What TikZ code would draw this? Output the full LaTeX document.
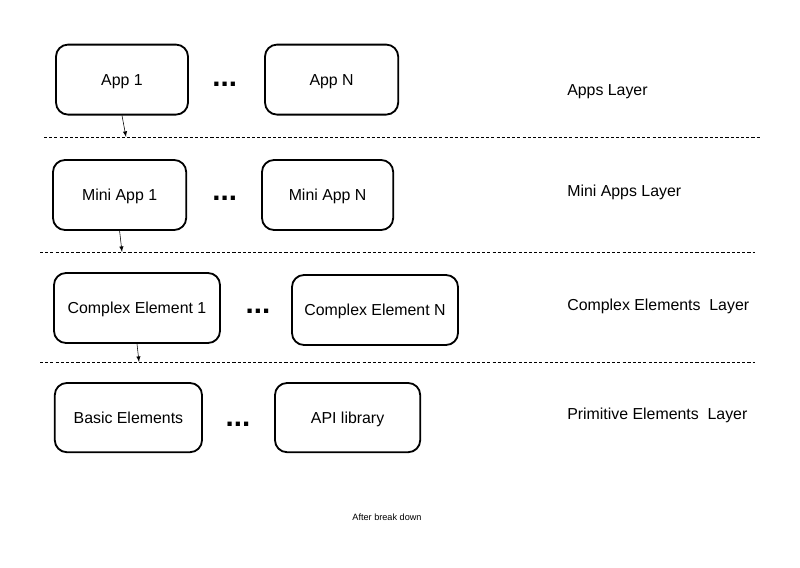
\documentclass[tikz,border=0pt]{standalone}
\usepackage{fontspec}
\setmainfont{Liberation Sans}
\usepackage{tikz}
\usetikzlibrary{arrows}
\usetikzlibrary{positioning}

\tikzset{
    layerbox/.style={draw,line width=1.3pt,rounded corners=0.3cm,
        minimum height=1.75cm,inner sep=0pt,text depth=0pt,
        font=\fontsize{11.3}{13}\selectfont},
    moredots/.style={inner sep=0pt,font=\fontsize{21}{21}\selectfont\bfseries},
    layername/.style={anchor=base west,inner sep=0pt,font=\fontsize{11.3}{13}\selectfont},
    layerline/.style={dash pattern=on 2.2pt off 1.5pt,line width=0.5pt},
}

\begin{document}
\begin{tikzpicture}[>=latex]
    \useasboundingbox (0,0) rectangle (20,14.2);

    % Apps layer
    \node [layerbox,minimum width=3.3cm] (app1) at (3.05,12.21) {App 1};
    \node [moredots] (dotsA) at (5.62,12.1) {...};
    \node [layerbox,minimum width=3.33cm] (appN) at (8.29,12.21) {App N};
    \node [layername] (lapps) at (14.175,11.8) {Apps Layer};

    % Mini apps layer
    \node [layerbox,minimum width=3.33cm] (mini1) at (2.99,9.325) {Mini App 1};
    \node [moredots] (dotsB) at (5.62,9.24) {...};
    \node [layerbox,minimum width=3.28cm] (miniN) at (8.19,9.325) {Mini App N};
    \node [layername] (lmini) at (14.175,9.275) {Mini Apps Layer};

    % Complex elements layer
    \node [layerbox,minimum width=4.15cm] (cplx1) at (3.425,6.5) {Complex Element 1};
    \node [moredots] (dotsC) at (6.45,6.41) {...};
    \node [layerbox,minimum width=4.15cm] (cplxN) at (9.375,6.45) {Complex Element N};
    \node [layername] (lcplx) at (14.175,6.425) {Complex Elements\ \ Layer};

    % Primitive elements layer
    \node [layerbox,minimum width=3.68cm,minimum height=1.73cm] (basic) at (3.21,3.76) {Basic Elements};
    \node [moredots] (dotsD) at (5.95,3.59) {...};
    \node [layerbox,minimum width=3.63cm,minimum height=1.73cm] (api) at (8.69,3.76) {API library};
    \node [layername] (lprim) at (14.175,3.7) {Primitive Elements\ \ Layer};

    % layer borders
    \coordinate (bordA-w) at (1.1,10.775);
    \coordinate (bordA-e) at (19.0,10.775);
    \coordinate (bordB-w) at (1.0,7.9);
    \coordinate (bordB-e) at (18.875,7.9);
    \coordinate (bordC-w) at (1.0,5.15);
    \coordinate (bordC-e) at (18.875,5.15);
    \draw [layerline] (bordA-w) -- (bordA-e);
    \draw [layerline] (bordB-w) -- (bordB-e);
    \draw [layerline] (bordC-w) -- (bordC-e);

    \coordinate (hitA) at (3.15,10.775);
    \coordinate (hitB) at (3.05,7.9);
    \coordinate (hitC) at (3.475,5.15);
    \draw [->,line width=0.4pt] (app1.south) -- (hitA);
    \draw [->,line width=0.4pt] (mini1.south) -- (hitB);
    \draw [->,line width=0.4pt] (cplx1.south) -- (hitC);

    \node [font=\fontsize{6.5}{8}\selectfont] (caption) at (9.675,1.275) {After break down};
\end{tikzpicture}
\end{document}
